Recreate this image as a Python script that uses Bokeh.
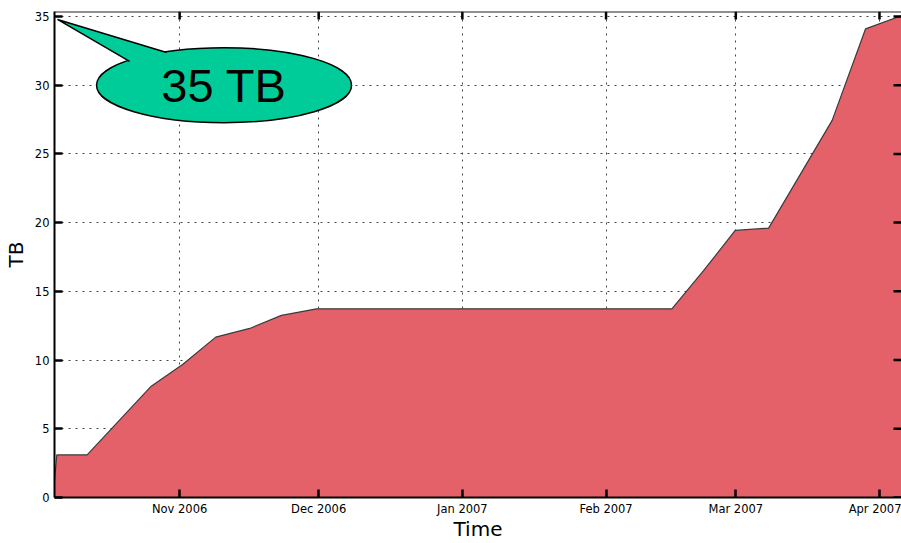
import math
import pandas as pd
from bokeh.plotting import figure
from bokeh.models import Range1d, FixedTicker, Span
from bokeh.core.properties import value
from bokeh.embed import file_html
from bokeh.resources import INLINE

# ---- data ----
dates = ["2006-10-05 00:00", "2006-10-05 12:00", "2006-10-12 01:00", "2006-10-25 21:00",
         "2006-11-01 17:00", "2006-11-08 19:00", "2006-11-16 03:00", "2006-11-22 23:00",
         "2006-11-30 13:00", "2007-02-15 05:00", "2007-02-22 01:00", "2007-02-28 21:00",
         "2007-03-08 02:00", "2007-03-21 19:00", "2007-03-29 00:00", "2007-04-05 18:00"]
tb = [1.2, 3.1, 3.1, 8.1, 9.7, 11.67, 12.3, 13.25, 13.73, 13.73, 16.5, 19.43,
      19.6, 27.44, 34.1, 35.05]

tick_dates = ["2006-11-01", "2006-12-01", "2007-01-01", "2007-02-01", "2007-03-01", "2007-04-01"]
tick_labels = ["Nov 2006", "Dec 2006", "Jan 2007", "Feb 2007", "Mar 2007", "Apr 2007"]
y_ticks = [0, 5, 10, 15, 20, 25, 30, 35]

callout_text = "35 TB"

x = pd.to_datetime(dates)
tick_ts = pd.to_datetime(tick_dates)
tick_ms = [t.value / 1e6 for t in tick_ts]

x_start = pd.Timestamp("2006-10-05 00:00")
x_end = pd.Timestamp("2007-04-05 18:00")
y_top = 35.36

p = figure(width=901, height=543, output_backend="svg", toolbar_location=None,
           x_axis_type="datetime",
           x_range=Range1d(x_start, x_end), y_range=Range1d(0, y_top),
           min_border_left=0, min_border_right=0, min_border_top=11, min_border_bottom=0)
p.background_fill_color = "white"
p.border_fill_color = "white"
p.outline_line_color = None

# area
p.varea(x=x, y1=0, y2=tb, fill_color="#E5616A")
p.line(x=x, y=tb, line_color="#3a3a3a", line_width=1.2)

# axes styling
for ax in (p.xaxis[0], p.yaxis[0]):
    ax.axis_line_color = "black"
    ax.axis_line_width = 2
    ax.major_tick_in = 8
    ax.major_tick_out = 0
    ax.major_tick_line_width = 2.5
    ax.major_tick_line_color = "black"
    ax.minor_tick_line_color = None
    ax.major_label_text_font = "DejaVu Sans"
    ax.major_label_text_font_size = "11.5px"
    ax.major_label_text_color = "black"
    ax.axis_label_text_font = "DejaVu Sans"
    ax.axis_label_text_font_size = "20px"
    ax.axis_label_text_font_style = "normal"
    ax.axis_label_text_color = "black"

xa = p.xaxis[0]
xa.ticker = FixedTicker(ticks=tick_ms)
xa.major_label_overrides = {t: l for t, l in zip(tick_ms, tick_labels)}
xa.major_label_standoff = 4
xa.axis_label = "Time"
xa.axis_label_standoff = -2

ya = p.yaxis[0]
ya.ticker = FixedTicker(ticks=y_ticks)
ya.major_label_standoff = 5
ya.axis_label = "TB"
ya.axis_label_standoff = 4

# mirrored inward ticks on top and right, top spine
p.ray(x=list(tick_ts), y=[y_top] * len(tick_ts), length=8, length_units="screen",
      angle=-math.pi / 2, line_color="black", line_width=2.5)
p.ray(x=[x_end] * len(y_ticks), y=y_ticks, length=8, length_units="screen",
      angle=math.pi, line_color="black", line_width=2.5)
p.add_layout(Span(location=y_top, dimension="width", line_color="#222222", line_width=2))

# grid
p.grid.grid_line_color = "#444444"
p.grid.grid_line_dash = "2 5"
p.grid.grid_line_width = 1

# callout bubble
cx = pd.Timestamp("2006-11-10 14:00")
cy = 30.0
green = "#00CC99"
p.ellipse(x=[cx], y=[cy], width=255, height=75, width_units="screen", height_units="screen",
          fill_color=green, line_color="black", line_width=1.5)
tip = (pd.Timestamp("2006-10-05 15:30"), 34.78)
b1 = (pd.Timestamp("2006-10-29 04:30"), 32.38)
b2 = (pd.Timestamp("2006-10-21 05:00"), 31.73)
inner = (pd.Timestamp("2006-10-26 00:00"), 31.2)
p.patch(x=[tip[0], b1[0], inner[0], b2[0]], y=[tip[1], b1[1], inner[1], b2[1]],
        fill_color=green, line_color=None)
p.line(x=[b2[0], tip[0], b1[0]], y=[b2[1], tip[1], b1[1]], line_color="black", line_width=1.5)
p.text(x=[cx], y=[cy], text=[callout_text], text_font=value("Liberation Sans"),
       text_font_size="47px", text_align="center", text_baseline="middle",
       y_offset=0, text_color="black")

open("out.html", "w").write(file_html(p, INLINE))
